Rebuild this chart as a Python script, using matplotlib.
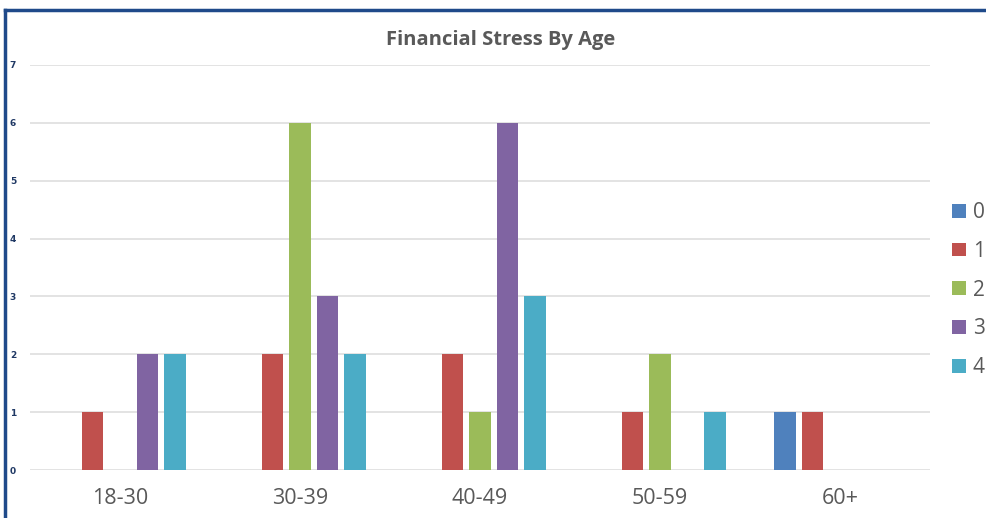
import matplotlib
matplotlib.use("Agg")
import matplotlib.pyplot as plt
from matplotlib.lines import Line2D
from matplotlib.patches import Patch
import numpy as np

# Survey counts: respondents per age group at each financial stress level
age_groups = ["18-30", "30-39", "40-49", "50-59", "60+"]
stress_levels = ["0", "1", "2", "3", "4"]
level_0 = [0, 0, 0, 0, 1]
level_1 = [1, 2, 2, 1, 1]
level_2 = [0, 6, 1, 2, 0]
level_3 = [2, 3, 6, 0, 0]
level_4 = [2, 2, 3, 1, 0]
y_ticks = [0, 1, 2, 3, 4, 5, 6, 7]

series = [level_0, level_1, level_2, level_3, level_4]
colors = ["#4F81BD", "#C0504D", "#9BBB59", "#8064A2", "#4BACC6"]

W, H = 987, 518
fig = plt.figure(figsize=(W / 100, H / 100), dpi=100)
fig.patch.set_facecolor("white")

ax = fig.add_axes([30 / W, 1 - 470 / H, 900 / W, 405 / H])
x = np.arange(len(age_groups))
step = 0.153
bar_w = 0.12
for i, (vals, c) in enumerate(zip(series, colors)):
    ax.bar(x + (i - 2) * step, vals, width=bar_w, color=c, zorder=3,
           label=stress_levels[i])

ax.set_xlim(-0.5, len(age_groups) - 0.5)
ax.set_ylim(0, 7)
ax.set_yticks(y_ticks)
ax.set_yticklabels([str(t) for t in y_ticks], fontsize=6.5, fontweight="bold",
                   color="#1F3864", family="DejaVu Sans")
ax.set_xticks(x)
ax.set_xticklabels(age_groups, fontsize=15.5, color="#595959", family="Open Sans")
ax.tick_params(axis="both", length=0)
ax.tick_params(axis="y", pad=10)
ax.tick_params(axis="x", pad=13)
ax.grid(axis="y", color="#DEDEDE", linewidth=1.2, zorder=0)
for s in ax.spines.values():
    s.set_visible(False)

fig.text(501 / W, 1 - 40 / H, "Financial Stress By Age", ha="center", va="center",
         fontsize=14.5, fontweight="bold", color="#595959", family="Open Sans")

handles = [Patch(facecolor=c, edgecolor="none") for c in colors]
fig.legend(handles, stress_levels, loc="center left",
           bbox_to_anchor=(952 / W, 1 - 290 / H), frameon=False,
           prop={"family": "Open Sans", "size": 15}, labelcolor="#595959",
           handlelength=0.65, handleheight=0.65, handletextpad=0.35,
           labelspacing=0.85, borderaxespad=0, borderpad=0)

# Frame edges along the left and top of the chart area
frame_color = "#1F4A8A"
fig.add_artist(Line2D([5 / W, 5 / W], [0, 1 - 10 / H], color=frame_color,
                      linewidth=2.5, transform=fig.transFigure))
fig.add_artist(Line2D([5 / W, 1], [1 - 10 / H, 1 - 10 / H], color=frame_color,
                      linewidth=2.5, transform=fig.transFigure))

fig.savefig("out.png", dpi=100)
